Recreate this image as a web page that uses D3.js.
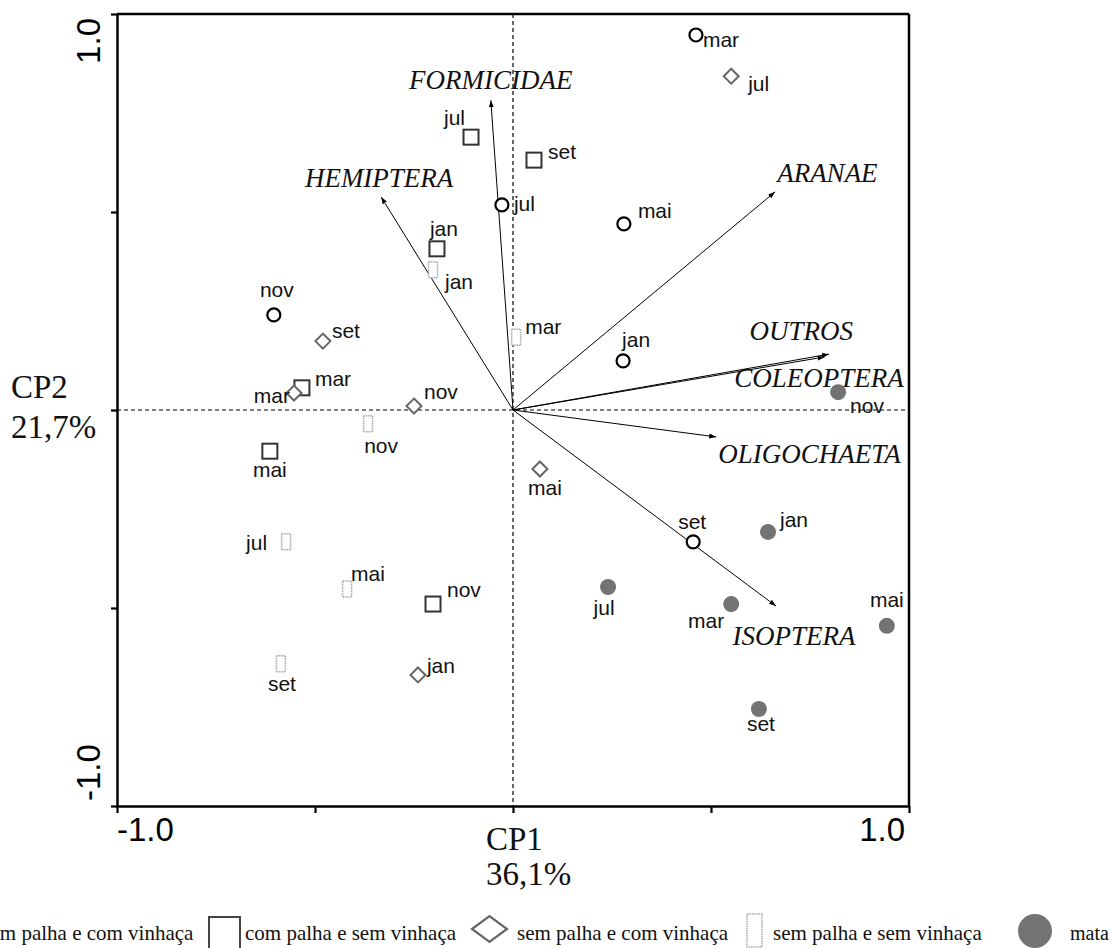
<!DOCTYPE html>
<html><head><meta charset="utf-8">
<script src="https://cdn.jsdelivr.net/npm/d3@7"></script>
<style>html,body{margin:0;padding:0;background:#fff;overflow:hidden}</style>
</head><body>
<svg id="c" width="1112" height="948"></svg>
<script>
// ---- data (PCA scores, CP1 / CP2) ----
const months = ["jan","mar","mai","jul","set","nov"];
const comPalhaComVinhaca = [["jan",0.278,0.124],["mar",0.462,0.947],["mai",0.280,0.470],["jul",-0.028,0.518],["set",0.455,-0.333],["nov",-0.604,0.240]];
const comPalhaSemVinhaca = [["jan",-0.192,0.407],["mar",-0.533,0.056],["mai",-0.614,-0.104],["jul",-0.106,0.689],["set",0.053,0.631],["nov",-0.202,-0.490]];
const semPalhaComVinhaca = [["jan",-0.240,-0.669],["mar",-0.553,0.043],["mai",0.068,-0.149],["jul",0.551,0.843],["set",-0.480,0.174],["nov",-0.250,0.010]];
const semPalhaSemVinhaca = [["jan",-0.202,0.354],["mar",0.008,0.184],["mai",-0.419,-0.452],["jul",-0.573,-0.333],["set",-0.586,-0.641],["nov",-0.366,-0.035]];
const mata = [["jan",0.644,-0.308],["mar",0.551,-0.490],["mai",0.944,-0.545],["jul",0.240,-0.447],["set",0.621,-0.755],["nov",0.821,0.045]];
const taxa = ["FORMICIDAE","HEMIPTERA","ARANAE","OUTROS","COLEOPTERA","OLIGOCHAETA","ISOPTERA"];
const loadCP1 = [-0.056,-0.333,0.662,0.798,0.787,0.513,0.664];
const loadCP2 = [0.782,0.538,0.551,0.141,0.134,-0.068,-0.495];
const axisTicks = [-1,-0.5,0,0.5,1];
const tickLabels = {"-1":"-1.0","1":"1.0"};
const axisTitleX = ["CP1","36,1%"];
const axisTitleY = ["CP2","21,7%"];
const legendLabels = ["com palha e com vinhaça","com palha e sem vinhaça","sem palha e com vinhaça","sem palha e sem vinhaça","mata"];

// ---- label placement (anchor, dx, dy in px) ----
const lblCirc = {mar:["start",7,12],jul:["start",12,6],mai:["start",14,-6],nov:["middle",3,-18],jan:["start",-1,-14],set:["middle",-1,-13]};
const lblSq = {jul:["end",-6,-12],set:["start",14,-1],jan:["start",-7,-13],mar:["start",13,-2],mai:["middle",0,26],nov:["start",14,-7]};
const lblDia = {jul:["start",17,15],set:["start",9,-3],mar:["end",-4,10],nov:["start",10,-7],mai:["middle",5,26],jan:["start",9,-2]};
const lblRect = {jan:["start",12,19],mar:["start",9,-3],nov:["middle",13,29],jul:["end",-19,8],mai:["start",4,-8],set:["middle",1,27]};
const lblMata = {nov:["start",12,21],jan:["start",12,-5],jul:["middle",-4,28],mar:["middle",-25,24],mai:["middle",0,-19],set:["middle",2,22]};
const lblArrow = {FORMICIDAE:["middle",0,-11],HEMIPTERA:["middle",-2,-10],ARANAE:["start",2,-10],OUTROS:["end",24,-14],COLEOPTERA:["end",79,30],OLIGOCHAETA:["start",2,26],ISOPTERA:["middle",18,39]};

const svg = d3.select("#c");
const x = d3.scaleLinear().domain([-1,1]).range([117,909]);
const y = d3.scaleLinear().domain([-1,1]).range([806,14]);
const SANS = "'Liberation Sans', Arial, sans-serif";
const SERIF = "'Liberation Serif', 'Times New Roman', serif";

svg.append("defs").append("marker").attr("id","ah").attr("viewBox","0 0 10 10")
  .attr("refX",10).attr("refY",5).attr("markerWidth",7).attr("markerHeight",7)
  .attr("markerUnits","userSpaceOnUse").attr("orient","auto")
  .append("path").attr("d","M0,1.5 L10,5 L0,8.5 Z").attr("fill","#000");

// dashed zero lines
svg.append("line").attr("x1",x(-1)).attr("x2",x(1)).attr("y1",y(0)).attr("y2",y(0))
  .attr("stroke","#000").attr("stroke-width",1.2).attr("stroke-dasharray","4,3");
svg.append("line").attr("x1",x(0)).attr("x2",x(0)).attr("y1",y(1)).attr("y2",y(-1))
  .attr("stroke","#000").attr("stroke-width",1.2).attr("stroke-dasharray","4,3");

// frame + axes
svg.append("line").attr("x1",x(-1)).attr("x2",x(1)).attr("y1",y(1)).attr("y2",y(1)).attr("stroke","#000").attr("stroke-width",2.5);
svg.append("line").attr("x1",x(1)).attr("x2",x(1)).attr("y1",y(1)).attr("y2",y(-1)).attr("stroke","#000").attr("stroke-width",2.5);
const gx = svg.append("g").attr("transform",`translate(0,${y(-1)})`)
  .call(d3.axisBottom(x).tickValues(axisTicks).tickSize(7).tickSizeOuter(0).tickFormat(""));
const gy = svg.append("g").attr("transform",`translate(${x(-1)},0)`)
  .call(d3.axisLeft(y).tickValues(axisTicks).tickSize(6).tickSizeOuter(0).tickFormat(""));
[gx,gy].forEach(g=>{g.select(".domain").attr("stroke-width",2.5);g.selectAll(".tick line").attr("stroke-width",2.2);});

// tick labels
svg.append("text").text(tickLabels["-1"]).attr("x",x(-1)).attr("y",841)
  .attr("font-family",SANS).attr("font-size",33).attr("text-anchor","start");
svg.append("text").text(tickLabels["1"]).attr("x",x(1)-4).attr("y",841)
  .attr("font-family",SANS).attr("font-size",33).attr("text-anchor","end");
svg.append("text").text(tickLabels["1"]).attr("transform",`translate(100,${y(1)+4}) rotate(-90)`)
  .attr("font-family",SANS).attr("font-size",33).attr("text-anchor","end");
svg.append("text").text(tickLabels["-1"]).attr("transform",`translate(100,${y(-1)-5}) rotate(-90)`)
  .attr("font-family",SANS).attr("font-size",33).attr("text-anchor","start");

// axis titles
axisTitleX.forEach((t,i)=>svg.append("text").text(t).attr("x",486).attr("y",850+i*35)
  .attr("font-family",SERIF).attr("font-size",33).attr("fill","#111"));
axisTitleY.forEach((t,i)=>svg.append("text").text(t).attr("x",11).attr("y",398+i*40)
  .attr("font-family",SERIF).attr("font-size",33).attr("fill","#111"));

// arrows
const arrows = taxa.map((t,i)=>({t, cx:loadCP1[i], cy:loadCP2[i]}));
svg.append("g").selectAll("line").data(arrows).join("line")
  .attr("x1",x(0)).attr("y1",y(0)).attr("x2",d=>x(d.cx)).attr("y2",d=>y(d.cy))
  .attr("stroke","#000").attr("stroke-width",1).attr("marker-end","url(#ah)");
svg.append("g").selectAll("text").data(arrows).join("text")
  .text(d=>d.t).attr("x",d=>x(d.cx)+lblArrow[d.t][1]).attr("y",d=>y(d.cy)+lblArrow[d.t][2])
  .attr("text-anchor",d=>lblArrow[d.t][0])
  .attr("font-family",SERIF).attr("font-style","italic").attr("font-size",27).attr("fill","#111");

// symbols
const shapes = {
  circ: (g)=>g.append("circle").attr("r",6.5).attr("fill","#fff").attr("stroke","#000").attr("stroke-width",2.2),
  sq:   (g)=>g.append("rect").attr("x",-7.5).attr("y",-7.5).attr("width",15).attr("height",15).attr("fill","none").attr("stroke","#333").attr("stroke-width",2),
  dia:  (g)=>g.append("path").attr("d","M0,-7.5 L7.5,0 L0,7.5 L-7.5,0 Z").attr("fill","#fff").attr("stroke","#666").attr("stroke-width",2),
  rect: (g)=>g.append("rect").attr("x",-4.5).attr("y",-8).attr("width",9).attr("height",16).attr("fill","#fff").attr("stroke","#aaa").attr("stroke-width",1.5).attr("stroke-dasharray","1.5,0.8"),
  mata: (g)=>g.append("circle").attr("r",8).attr("fill","#737373")
};
const groups = [
  [comPalhaComVinhaca,"circ",lblCirc],
  [comPalhaSemVinhaca,"sq",lblSq],
  [semPalhaComVinhaca,"dia",lblDia],
  [semPalhaSemVinhaca,"rect",lblRect],
  [mata,"mata",lblMata]
];
groups.forEach(([data,shape,lbl])=>{
  const g = svg.append("g");
  data.forEach(([m,vx,vy])=>{
    const p = g.append("g").attr("transform",`translate(${x(vx)},${y(vy)})`);
    shapes[shape](p);
    const L = lbl[m];
    g.append("text").text(m).attr("x",x(vx)+L[1]).attr("y",y(vy)+L[2]).attr("text-anchor",L[0])
      .attr("font-family",SANS).attr("font-size",21).attr("fill","#111");
  });
});

// legend
const leg = svg.append("g").attr("font-family",SERIF).attr("font-size",21).attr("fill","#111");
const legTextX = [-20,245,517,773,1070];
legendLabels.forEach((t,i)=>leg.append("text").text(t).attr("x",legTextX[i]).attr("y",940)
  .attr("font-size", i===4 ? 20 : 21));
leg.append("rect").attr("x",209).attr("y",917).attr("width",31).attr("height",33).attr("fill","none").attr("stroke","#444").attr("stroke-width",2);
leg.append("path").attr("d","M472,929 L489.5,916 L507,929 L489.5,942 Z").attr("fill","none").attr("stroke","#666").attr("stroke-width",2.2);
leg.append("rect").attr("x",747).attr("y",914).attr("width",15).attr("height",33).attr("fill","none").attr("stroke","#aaa").attr("stroke-width",1.5).attr("stroke-dasharray","1.5,0.8");
leg.append("circle").attr("cx",1035).attr("cy",931).attr("r",17).attr("fill","#737373");
</script>
</body></html>
